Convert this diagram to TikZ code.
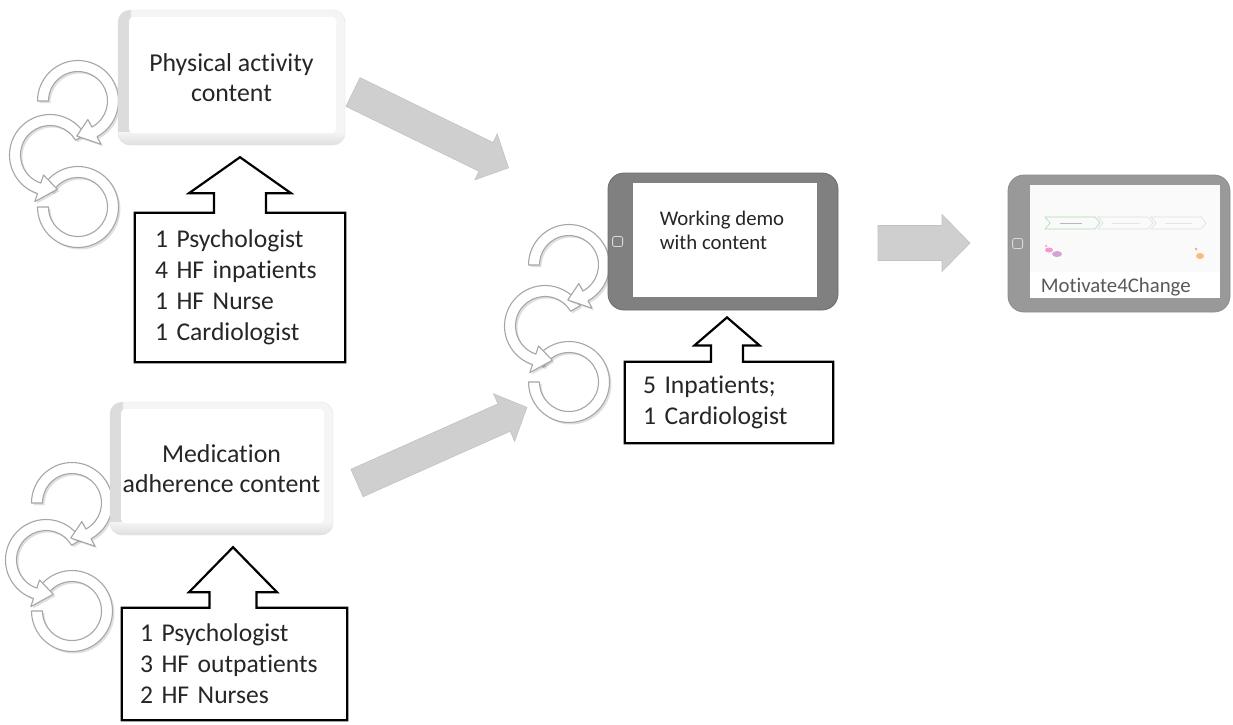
\documentclass[tikz,border=0pt]{standalone}
\usepackage{fontspec}
\setmainfont{Carlito}[Ligatures=NoCommon]
\usetikzlibrary{calc,shadows}
\newcommand{\boxfont}{\fontsize{25.8}{30}\selectfont}
\newcommand{\calloutfont}{\fontsize{25.6}{31}\selectfont}
\newcommand{\screenfont}{\fontsize{20.8}{24}\selectfont}
\newcommand{\looparrow}[4]{\draw[loopband] ([shift={(#1)}]#2:40.5) arc[start angle=#2, end angle=#3, radius=40.5]
					-- ([shift={(#1)}]#3:49) -- ([shift={(#1)}]#4:35) -- ([shift={(#1)}]#3:21)
					-- ([shift={(#1)}]#3:29.5) arc[start angle=#3, end angle=#2, radius=29.5] -- cycle;}
\newcommand{\loopend}[3]{\draw[loopband] ([shift={(#1)}]#2:40.5) arc[start angle=#2, end angle=#3, radius=40.5]
					-- ([shift={(#1)}]#3:29.5) arc[start angle=#3, end angle=#2, radius=29.5] -- cycle;}
\newcommand{\blockarrow}[6]{\filldraw[blockarrow, shift={(#1)}, rotate=#2] (0,-#4) -- (#3-#6,-#4) -- (#3-#6,-#5)
					-- (#3,0) -- (#3-#6,#5) -- (#3-#6,#4) -- (0,#4) -- cycle;}
\newcommand{\upcallout}[5]{\draw[calloutline] let \p1=(#1.north), \p2=(#2) in
					(#1.north west) -- (\x2-#5,\y1) -- (\x2-#5,\y2-#3) -- (\x2-#4,\y2-#3) -- (#2)
					-- (\x2+#4,\y2-#3) -- (\x2+#5,\y2-#3) -- (\x2+#5,\y1) -- (#1.north east)
					|- (#1.south west) -- cycle;}
\tikzset{
	loopband/.style={fill=white, draw=gray!70, line width=1.1pt, line join=round,
		drop shadow={shadow xshift=2pt, shadow yshift=-2pt, opacity=0.25}},
	blockarrow/.style={fill=gray!38, draw=gray!48, line width=0.6pt, line join=miter},
	calloutline/.style={draw=black, line width=2.2pt, line join=miter},
	calloutbox/.style={align=left, font=\calloutfont, text=black!85, inner ysep=0pt},
	bevelbox/.style={rounded corners=12pt, draw=gray!22, fill=gray!8, align=center, font=\boxfont,
		text=black!85, inner sep=0pt,
		path picture={
			\shade[sharp corners, left color=gray!28, right color=gray!8] (path picture bounding box.north west)
				rectangle ([xshift=13pt]path picture bounding box.south west);
			\shade[sharp corners, top color=gray!8, bottom color=gray!25] ([yshift=13pt]path picture bounding box.south west)
				rectangle (path picture bounding box.south east);
			\fill[white, rounded corners=4pt] ([xshift=11pt,yshift=-7pt]path picture bounding box.north west)
				rectangle ([xshift=-9pt,yshift=12pt]path picture bounding box.south east);
		}},
	tablet/.style={rounded corners=16pt, fill=black!50, draw=black!58, line width=0.8pt, inner sep=0pt},
	homebtn/.style={draw=gray!30, line width=0.8pt, rounded corners=2pt},
	screentext/.style={align=left, font=\screenfont, text=black!85, inner sep=0pt}
}
\begin{document}
\begin{tikzpicture}[x=1pt, y=-1pt]
	\useasboundingbox (0,0) rectangle (1233,724);

	\loopend{78,207}{210}{540}
	\looparrow{50,155}{330}{108}{78}
	\looparrow{78,101}{180}{422}{452}

	\loopend{72,611}{210}{540}
	\looparrow{46,560}{330}{108}{78}
	\looparrow{72,503}{180}{422}{452}

	\loopend{569,382}{210}{540}
	\looparrow{545,326}{330}{108}{78}
	\looparrow{569,265}{180}{422}{452}

	\node[bevelbox, minimum width=227, minimum height=135] (pa) at (231.5,77.5) {Physical activity\\content};
	\node[bevelbox, minimum width=223, minimum height=133] (pb) at (221.5,468.5) {Medication\\adherence content};

	\node[tablet, minimum width=230, minimum height=137] (demo) at (723,241.5) {};
	\fill[white] ([shift={(25,10)}]demo.north west) rectangle ([shift={(-21,-13)}]demo.south east);
	\draw[homebtn] ([shift={(5,-5)}]demo.west) rectangle ([shift={(15,5)}]demo.west);
	\node[screentext] (demolabel) at (722,230) {Working demo\\with content};

	\node[tablet, fill=black!40, draw=black!45, minimum width=222, minimum height=137] (app) at (1119,243.5) {};
	\fill[gray!4] ([shift={(22,10)}]app.north west) rectangle ([shift={(-10,-14)}]app.south east);
	\fill[white] ([shift={(22,97)}]app.north west) rectangle ([shift={(-10,-14)}]app.south east);
	\draw[homebtn] ([shift={(5,-5)}]app.west) rectangle ([shift={(15,5)}]app.west);
	\foreach \cx/\cc in {1045/green!40!gray!45, 1098/gray!25, 1151/gray!25}
		\draw[draw=\cc, line width=0.6pt] (\cx,217) -- ++(50,0) -- ++(5,6) -- ++(-5,6) -- ++(-50,0) -- ++(5,-6) -- cycle;
	\draw[gray!55, line width=1pt] (1060,223) -- (1082,223);
	\draw[gray!20, line width=1pt] (1112,223) -- (1140,223);
	\draw[gray!20, line width=1pt] (1165,223) -- (1192,223);
	\fill[magenta!40] (1049,250) ellipse [x radius=4, y radius=2.5];
	\fill[violet!35] (1057,254) ellipse [x radius=5, y radius=3];
	\fill[magenta!30] (1046,246) circle [radius=1.5];
	\fill[orange!55] (1200,256) ellipse [x radius=4, y radius=3];
	\fill[red!35] (1196,249) circle [radius=1.5];
	\node[screentext, text=black!65, anchor=west] (applabel) at ([shift={(33,112)}]app.north west) {Motivate4Change};

	\blockarrow{353,92}{-26}{173}{16}{25.5}{25}
	\blockarrow{357,483}{24}{186}{15}{26}{25}
	\blockarrow{878,243}{0}{92}{17.5}{28.5}{28}

	\coordinate (t1) at ($(pa.south)+(8.5,12)$);
	\coordinate (t2) at ($(pb.south)+(11.5,12)$);
	\coordinate (t3) at ($(demo.south)+(4,7)$);

	\node[calloutbox, text width=170, inner xsep=20, minimum height=149] (c1) at (240,287.5)
		{1 Psychologist\\4 HF inpatients\\1 HF Nurse\\1 Cardiologist};
	\node[calloutbox, text width=189, inner xsep=18, minimum height=112] (c2) at (234.5,664)
		{1 Psychologist\\3 HF outpatients\\2 HF Nurses};
	\node[calloutbox, text width=172, inner xsep=18, minimum height=81] (c3) at (729,402.5)
		{5 Inpatients;\\1 Cardiologist};

	\upcallout{c1}{t1}{36pt}{51pt}{26pt}
	\upcallout{c2}{t2}{45pt}{44pt}{23.5pt}
	\upcallout{c3}{t3}{28pt}{32.5pt}{16pt}

\end{tikzpicture}
\end{document}
